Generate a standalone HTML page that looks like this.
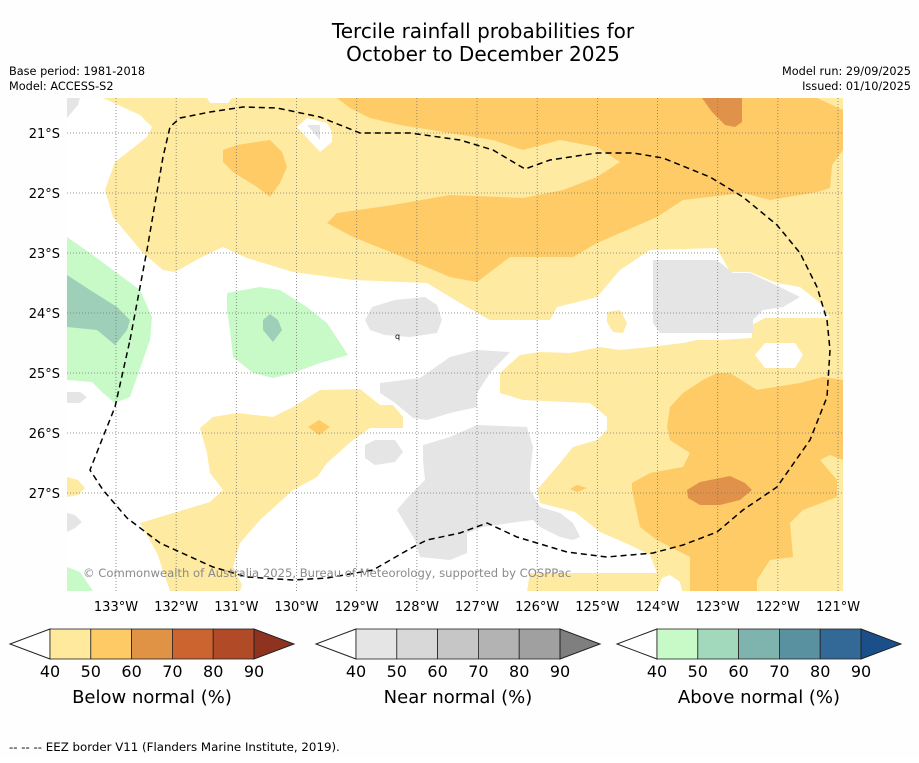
<!DOCTYPE html>
<html><head><meta charset="utf-8">
<style>
html,body{margin:0;padding:0;background:#fff;}
body{width:919px;height:758px;overflow:hidden;font-family:"Liberation Sans","DejaVu Sans",sans-serif;}
svg text{font-family:"DejaVu Sans","Liberation Sans",sans-serif;}
</style></head>
<body>
<svg id="chart" width="919" height="758" viewBox="0 0 919 758" xmlns="http://www.w3.org/2000/svg">
<rect x="0" y="0" width="919" height="758" fill="#fefefe"/>
<text x="483" y="38" font-size="20" text-anchor="middle" fill="#000">Tercile rainfall probabilities for</text>
<text x="483" y="61" font-size="20" text-anchor="middle" fill="#000">October to December 2025</text>
<text x="9" y="75" font-size="11.3" fill="#000">Base period: 1981-2018</text>
<text x="9" y="90" font-size="11.3" fill="#000">Model: ACCESS-S2</text>
<text x="911" y="75" font-size="11.3" text-anchor="end" fill="#000">Model run: 29/09/2025</text>
<text x="911" y="90" font-size="11.3" text-anchor="end" fill="#000">Issued: 01/10/2025</text>

<defs><clipPath id="mapclip"><rect x="67" y="98" width="776" height="493"/></clipPath></defs>
<g id="map" clip-path="url(#mapclip)">
<rect x="67" y="98" width="776" height="493" fill="#feeaa0"/>
<path fill="#ffffff" d="M67,98 L103,98 L140,115 L152,127 L147,137 L115,162 L105,190 L113,217 L143,253 L163,270 L175,272 L200,258 L223,247 L247,258 L293,272 L353,280 L427,283 L460,303 L490,320 L550,320 L557,307 L597,297 L620,270 L650,250 L717,248 L730,272 L750,272 L777,283 L800,287 L820,303 L830,318 L805,318 L765,318 L752,325 L752,338 L720,340 L697,340 L683,343 L650,347 L620,350 L600,347 L570,353 L540,352 L520,355 L500,373 L500,393 L523,400 L590,403 L607,417 L607,430 L597,440 L573,447 L560,463 L537,490 L540,503 L575,512 L600,532 L630,545 L650,555 L657,573 L530,573 L527,591 L67,591 Z"/>
<path fill="#ffffff" d="M755,355 L765,343 L795,343 L803,355 L795,368 L765,368 Z"/>
<path fill="#ffffff" d="M657,591 L662,578 L670,575 L680,582 L682,591 Z"/>
<path fill="#ffffff" d="M207,98 L232,98 L228,103 L210,103 Z"/>
<path fill="#ffffff" d="M297,127 L307,118 L327,123 L332,132 L332,142 L320,152 Z"/>
<path fill="#feeaa0" d="M200,428 L213,417 L237,413 L273,417 L293,407 L320,390 L360,389 L380,405 L393,405 L403,417 L403,428 L370,428 L353,440 L327,463 L317,477 L293,490 L260,520 L240,543 L233,567 L242,585 L240,591 L170,591 L157,553 L140,523 L210,502 L223,490 L210,473 L207,453 Z"/>
<path fill="#feeaa0" d="M67,477 L78,480 L85,488 L78,495 L67,497 Z"/>
<path fill="#feeaa0" d="M607,312 L620,310 L627,323 L623,333 L613,332 L607,322 Z"/>
<path fill="#fecb66" d="M337,98 L817,98 L843,110 L843,150 L832,165 L830,188 L817,192 L770,200 L743,193 L683,200 L657,217 L597,243 L573,257 L510,257 L477,282 L450,277 L393,253 L353,237 L327,223 L337,213 L393,205 L450,195 L523,198 L563,190 L597,177 L620,162 L597,147 L560,140 L523,150 L493,140 L450,133 L400,125 L370,118 L350,108 Z"/>
<path fill="#fecb66" d="M223,150 L237,145 L270,140 L282,152 L287,167 L280,183 L270,197 L257,187 L233,172 L223,162 Z"/>
<path fill="#fecb66" d="M717,373 L730,373 L757,390 L800,383 L823,377 L843,380 L843,460 L830,455 L820,460 L837,480 L837,497 L803,510 L790,523 L793,557 L770,560 L757,580 L757,591 L690,591 L690,557 L657,540 L640,527 L632,490 L632,483 L650,473 L683,467 L690,453 L670,440 L667,427 L670,407 L683,393 L703,380 Z"/>
<path fill="#fecb66" d="M308,427 L319,420 L330,427 L319,435 Z"/>
<path fill="#fecb66" d="M570,489 L577,485 L587,488 L577,492 Z"/>
<path fill="#e0924a" d="M702,98 L742,98 L742,122 L735,127 L725,125 L712,112 Z"/>
<path fill="#e0924a" d="M687,490 L700,482 L730,476 L745,483 L752,490 L740,500 L720,505 L700,505 L688,498 Z"/>
<path fill="#e5e5e5" d="M67,98 L80,98 L78,105 L67,118 Z"/>
<path fill="#e5e5e5" d="M307,125 L320,125 L320,140 Z"/>
<path fill="#e5e5e5" d="M365,320 L372,307 L395,300 L425,297 L437,305 L442,320 L437,333 L410,337 L385,335 L370,330 Z"/>
<path fill="#e5e5e5" d="M380,383 L420,378 L450,357 L477,350 L510,352 L490,373 L477,393 L477,407 L450,413 L427,420 L413,418 L395,403 L380,393 Z"/>
<path fill="#e5e5e5" d="M365,445 L375,440 L395,440 L403,452 L395,462 L375,465 L365,458 Z"/>
<path fill="#e5e5e5" d="M423,445 L450,437 L477,425 L527,427 L533,447 L530,473 L530,490 L540,507 L560,513 L573,523 L580,537 L573,540 L560,537 L540,527 L533,520 L517,522 L483,527 L467,533 L467,553 L450,560 L420,557 L415,540 L397,510 L410,495 L425,480 L423,460 Z"/>
<path fill="#e5e5e5" d="M653,260 L717,260 L733,273 L750,273 L780,287 L800,297 L783,307 L763,310 L753,320 L753,333 L660,333 L653,323 Z"/>
<path fill="#e5e5e5" d="M67,392 L80,392 L87,397 L80,403 L67,403 Z"/>
<path fill="#e5e5e5" d="M67,513 L75,515 L82,522 L75,528 L67,532 Z"/>
<path fill="#c8fac8" d="M67,237 L90,253 L113,270 L140,290 L152,317 L150,340 L130,397 L115,403 L103,393 L92,382 L67,380 Z"/>
<path fill="#9ecfb8" d="M67,275 L90,290 L117,307 L130,320 L127,330 L115,345 L97,330 L67,327 Z"/>
<path fill="#c8fac8" d="M227,293 L260,287 L280,290 L307,307 L327,323 L348,355 L320,363 L293,373 L273,378 L253,373 L233,357 L230,330 L227,310 Z"/>
<path fill="#9ecfb8" d="M263,320 L270,314 L278,320 L282,330 L273,342 L263,330 Z"/>
<path fill="#c8fac8" d="M67,567 L80,572 L93,591 L67,591 Z"/>
<text x="395" y="339" font-size="8" fill="#000">q</text>
<g id="grid"></g>
<path fill="none" stroke="#000" stroke-width="1.5" stroke-dasharray="6,4" d="M130,340 L147,250 L163,157 L170,127 L180,118 L210,112 L243,107 L277,108 L320,117 L360,133 L410,133 L460,140 L493,150 L525,169 L550,160 L597,153 L633,153 L663,158 L710,177 L743,197 L777,225 L800,253 L817,287 L827,320 L830,350 L827,397 L810,440 L777,487 L743,510 L717,532 L683,545 L653,553 L607,557 L567,552 L517,537 L487,523 L460,533 L427,540 L413,547 L373,570 L327,578 L293,580 L247,577 L213,567 L160,543 L127,518 L103,490 L90,470 L103,437 L115,407 Z"/>
<text x="83" y="577" font-size="11.6" fill="#8a8a8a">© Commonwealth of Australia 2025, Bureau of Meteorology, supported by COSPPac</text>
</g>
<g id="axes"></g>
<g id="colorbars"></g>
<text x="9" y="751" font-size="11.8" fill="#000">--  --  -- EEZ border V11 (Flanders Marine Institute, 2019).</text>
</svg>
<script>
const lonValues = [133,132,131,130,129,128,127,126,125,124,123,122,121];
const lonLabels = ['133°W','132°W','131°W','130°W','129°W','128°W','127°W','126°W','125°W','124°W','123°W','122°W','121°W'];
const latValues = [21,22,23,24,25,26,27];
const latLabels = ['21°S','22°S','23°S','24°S','25°S','26°S','27°S'];
const levels = [40,50,60,70,80,90];
const belowColors = ['#fee99d','#fdca66','#e09245','#cc6430','#b04a27','#8f3220'];
const nearColors = ['#e5e5e5','#d8d8d8','#c6c6c6','#b3b3b3','#a0a0a0','#7f7f7f'];
const aboveColors = ['#c8fac8','#a2d8bb','#7fb4ae','#5991a1','#326997','#1a4f8a'];
const barTitles = ['Below normal (%)','Near normal (%)','Above normal (%)'];

const NS='http://www.w3.org/2000/svg';
function xOf(lon){return 116+(133-lon)*60.17;}
function yOf(lat){return 133+(lat-21)*60;}
function mk(tag,attrs,parent){const e=document.createElementNS(NS,tag);for(const k in attrs)e.setAttribute(k,attrs[k]);parent.appendChild(e);return e;}
const grid=document.getElementById('grid');
const axes=document.getElementById('axes');
lonValues.forEach((lon,i)=>{
  const x=xOf(lon);
  const l=mk('line',{x1:x,x2:x,y1:98,y2:591,stroke:'#777','stroke-width':0.8,'stroke-dasharray':'1,2'},grid);
  
  
  const t=mk('text',{x:x,y:611,'font-size':13,'text-anchor':'middle',fill:'#000'},axes);
  t.textContent=lonLabels[i];
  
  
});
latValues.forEach((lat,i)=>{
  const y=yOf(lat);
  const l=mk('line',{x1:67,x2:843,y1:y,y2:y,stroke:'#777','stroke-width':0.8,'stroke-dasharray':'1,2'},grid);
  
  
  const t=mk('text',{x:60,y:y+5,'font-size':13,'text-anchor':'end',fill:'#000'},axes);
  t.textContent=latLabels[i];
  
  
});
const cb=document.getElementById('colorbars');
const palettes=[belowColors,nearColors,aboveColors];
const barStarts=[50,356,657];
const segW=40.8, barTop=629, barBot=659, barMid=644;
palettes.forEach((cols,b)=>{
  const x0=barStarts[b];
  const g=mk('g',{},cb);
  
  
  const lt=mk('path',{d:`M${x0},${barTop} L${x0-40},${barMid} L${x0},${barBot} Z`,fill:'#fff',stroke:'#222','stroke-width':1},g);
  
  
  for(let i=0;i<levels.length-1;i++){
    const r=mk('rect',{x:x0+i*segW,y:barTop,width:segW,height:barBot-barTop,fill:cols[i],stroke:'#222','stroke-width':0.8},g);
    
    
  }
  const xe=x0+(levels.length-1)*segW;
  const rt=mk('path',{d:`M${xe},${barTop} L${xe+40},${barMid} L${xe},${barBot} Z`,fill:cols[levels.length-1],stroke:'#222','stroke-width':1},g);
  
  
  levels.forEach((v,i)=>{
    const t=mk('text',{x:x0+i*segW,y:677,'font-size':16,'text-anchor':'middle',fill:'#000'},g);
    t.textContent=v;
    
    
  });
  const tt=mk('text',{x:x0+(levels.length-1)*segW/2,y:703,'font-size':18,'text-anchor':'middle',fill:'#000'},g);
  tt.textContent=barTitles[b];
  
  
});
</script>
</body></html>
